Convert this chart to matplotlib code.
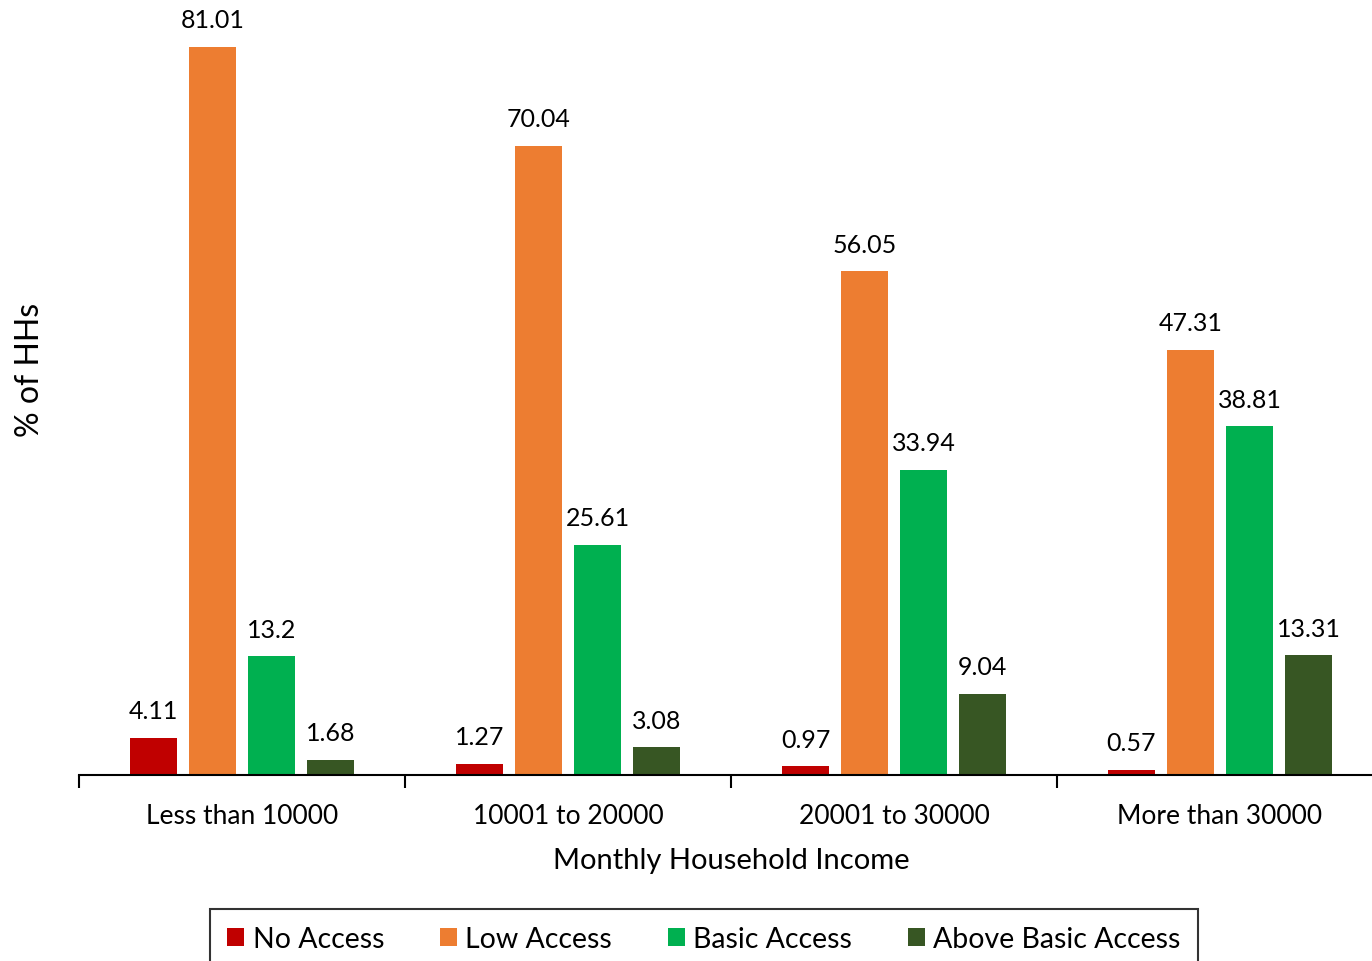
import matplotlib.pyplot as plt
import numpy as np

plt.rcParams['font.family'] = ['Lato', 'DejaVu Sans']

groups = ['Less than 10000', '10001 to 20000', '20001 to 30000', 'More than 30000']
series = ['No Access', 'Low Access', 'Basic Access', 'Above Basic Access']
no_access = [4.11, 1.27, 0.97, 0.57]
low_access = [81.01, 70.04, 56.05, 47.31]
basic_access = [13.2, 25.61, 33.94, 38.81]
above_basic = [1.68, 3.08, 9.04, 13.31]
colors = ['#C00000', '#ED7D31', '#00B050', '#375623']

values = [no_access, low_access, basic_access, above_basic]

fig = plt.figure(figsize=(13.72, 9.62), dpi=100)
ax = fig.add_axes([79 / 1372, 1 - 776 / 962, 1304 / 1372, 776 / 962])

x = np.arange(len(groups))
width = 0.144
step = 0.181
for i, (vals, name, c) in enumerate(zip(values, series, colors)):
    pos = x + (i - 1.5) * step
    bars = ax.bar(pos, vals, width, color=c, label=name)
    for b, v in zip(bars, vals):
        ax.text(b.get_x() + b.get_width() / 2, v + 1.75, f'{v:g}',
                ha='center', va='bottom', fontsize=18)

ax.set_xlim(-0.5, 3.5)
ax.set_ylim(0, 86.35)
for s in ['top', 'right', 'left']:
    ax.spines[s].set_visible(False)
ax.spines['bottom'].set_linewidth(1.5)
ax.set_yticks([])
ax.set_xticks(x)
ax.set_xticklabels(groups, fontsize=19)
ax.tick_params(axis='x', which='major', length=0, pad=20)
ax.set_xticks(np.arange(-0.5, 4, 1), minor=True)
ax.tick_params(axis='x', which='minor', length=9, width=1.5, direction='out')
ax.set_xlabel('Monthly Household Income', fontsize=21, labelpad=14)
fig.text(30 / 1372, 1 - 370 / 962, '% of HHs', rotation=90, fontsize=23,
         ha='center', va='center')

leg = fig.legend(loc='upper center', bbox_to_anchor=(704 / 1372, 1 - 910 / 962), ncol=4,
                 fontsize=20.5, frameon=True, fancybox=False, edgecolor='black',
                 handlelength=0.6, handleheight=0.6, handletextpad=0.3,
                 columnspacing=1.95, borderpad=0.6, borderaxespad=0)
leg.get_frame().set_linewidth(1.5)

fig.savefig('out.png', dpi=100)
